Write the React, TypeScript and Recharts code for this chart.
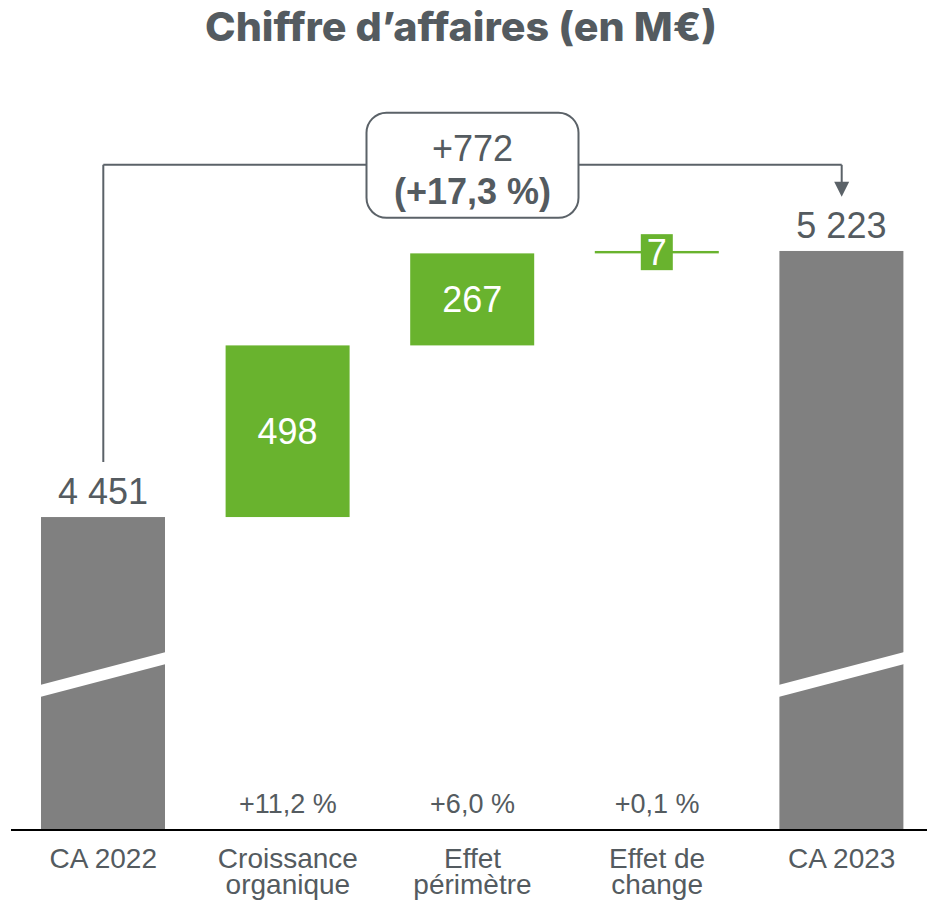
import React from 'react';
import { BarChart, Bar, XAxis, YAxis, LabelList, ReferenceLine, ReferenceDot, Cell } from 'recharts';

// ---- data ----
const categories = ['CA 2022', 'Croissance organique', 'Effet périmètre', 'Effet de change', 'CA 2023'];
const categoryLines = [['CA 2022'], ['Croissance', 'organique'], ['Effet', 'périmètre'], ['Effet de', 'change'], ['CA 2023']];
const values = [4451, 498, 267, 7, 5223];
const kinds = ['total', 'delta', 'delta', 'delta', 'total'];
const percentLabels = ['', '+11,2 %', '+6,0 %', '+0,1 %', ''];
const totalChangeLabel = '+772';
const totalChangePctLabel = '(+17,3 %)';
const titleText = 'Chiffre d\u2019affaires (en M€)';
// broken axis: visible value range
const yDomain = [3543, 5661];
// bracket annotation levels (data units)
const bracketLevel = 5473;
const bracketStartGap = 160;
const arrowTipLevel = 5380;

// ---- styles ----
const GREEN = '#69b32e';
const GREY = '#808080';
const TEXT = '#545b60';
const LINE = '#5b6268';
const FONT = '"Liberation Sans", Arial, sans-serif';

let running = 0;
const data = categories.map((name, i) => {
  if (kinds[i] === 'total') {
    running = values[i];
    return { name, range: [yDomain[0], values[i]], value: values[i], kind: 'total' };
  }
  const lo = running;
  running += values[i];
  return { name, range: [lo, running], value: values[i], kind: 'delta' };
});

const fmt = (v: number) => String(v).replace(/\B(?=(\d{3})+(?!\d))/g, '\u00a0');

const BarShape = (props: any) => {
  const { x, y, width, height, index, fill } = props;
  const isTotal = kinds[index] === 'total';
  const bottom = y + height;
  return (
    <g>
      <rect x={x} y={y} width={width} height={Math.max(height, 0)} fill={fill} />
      {isTotal && (
        <polygon
          points={`${x - 1},${bottom - 133} ${x + width + 1},${bottom - 166} ${x + width + 1},${bottom - 178} ${x - 1},${bottom - 145}`}
          fill="#ffffff"
        />
      )}
    </g>
  );
};

const renderLabel = (p: any) => {
  const { x, y, width, height, index } = p;
  const v = values[index];
  const cx = x + width / 2;
  if (kinds[index] === 'total') {
    return (
      <text x={cx} y={y - 13} textAnchor="middle" fontSize={36} fill={TEXT} fontFamily={FONT}>
        {fmt(v)}
      </text>
    );
  }
  const cy = y + height / 2;
  if (height < 40) {
    return (
      <g>
        <rect x={cx - 16} y={cy - 18} width={32} height={36} fill={GREEN} />
        <text x={cx} y={cy + 13} textAnchor="middle" fontSize={36} fill="#ffffff" fontFamily={FONT}>
          {fmt(v)}
        </text>
      </g>
    );
  }
  return (
    <text x={cx} y={cy + 13} textAnchor="middle" fontSize={36} fill="#ffffff" fontFamily={FONT}>
      {fmt(v)}
    </text>
  );
};

const AxisTick = (props: any) => {
  const { x, y, payload } = props;
  const i = payload.index ?? categories.indexOf(payload.value);
  const lines = categoryLines[i] || [payload.value];
  return (
    <g>
      {percentLabels[i] && (
        <text x={x} y={y - 17} textAnchor="middle" fontSize={27} fill={TEXT} fontFamily={FONT}>
          {percentLabels[i]}
        </text>
      )}
      {lines.map((l: string, k: number) => (
        <text key={k} x={x} y={y + 38 + k * 26} textAnchor="middle" fontSize={28} fill={TEXT} fontFamily={FONT}>
          {l}
        </text>
      ))}
    </g>
  );
};

const ArrowLine = (props: any) => {
  const { x1, y1, x2, y2 } = props;
  return (
    <g>
      <line x1={x1} y1={y1} x2={x2} y2={y2 - 14} stroke={LINE} strokeWidth={2} />
      <polygon points={`${x2 - 7.5},${y2 - 15} ${x2 + 7.5},${y2 - 15} ${x2},${y2}`} fill={LINE} />
    </g>
  );
};

const ChangeBox = (props: any) => {
  const { cx, cy } = props;
  return (
    <g>
      <rect x={cx - 106} y={cy - 52} width={212} height={105} rx={20} ry={20} fill="#ffffff" stroke={LINE} strokeWidth={2} />
      <text x={cx} y={cy - 4} textAnchor="middle" fontSize={36} fill={TEXT} fontFamily={FONT}>
        {totalChangeLabel}
      </text>
      <text x={cx} y={cy + 39} textAnchor="middle" fontSize={36} fontWeight="bold" fill={TEXT} fontFamily={FONT}>
        {totalChangePctLabel}
      </text>
    </g>
  );
};

export default function App() {
  return (
    <div style={{ position: 'fixed', left: 0, top: 0, width: 927, height: 905, overflow: 'hidden', background: '#fff' }}>
      <svg width={927} height={60} style={{ position: 'absolute', left: 0, top: 0 }}>
        <text x={461} y={41} textAnchor="middle" fontSize={40} fontWeight={800} fill={TEXT} fontFamily="Inter, sans-serif" textLength={512} lengthAdjust="spacingAndGlyphs">
          {titleText}
        </text>
      </svg>
      <div style={{ position: 'absolute', left: 0, top: 0 }}>
        <BarChart width={940} height={905} data={data} margin={{ top: 100, right: 6, left: 11, bottom: 0 }}>
          <XAxis
            dataKey="name"
            height={75}
            interval={0}
            tickLine={false}
            tickSize={0}
            tickMargin={0}
            axisLine={{ stroke: '#000000', strokeWidth: 2 }}
            tick={<AxisTick />}
          />
          <YAxis hide type="number" domain={yDomain} allowDataOverflow />
          <ReferenceLine
            segment={[{ x: categories[0], y: values[0] + bracketStartGap }, { x: categories[0], y: bracketLevel }]}
            stroke={LINE}
            strokeWidth={2}
          />
          <ReferenceLine
            segment={[{ x: categories[0], y: bracketLevel }, { x: categories[4], y: bracketLevel }]}
            stroke={LINE}
            strokeWidth={2}
          />
          <ReferenceLine
            segment={[{ x: categories[4], y: bracketLevel }, { x: categories[4], y: arrowTipLevel }]}
            shape={<ArrowLine />}
          />
          <Bar dataKey="range" barSize={124} isAnimationActive={false} shape={<BarShape />}>
            {data.map((d, i) => (
              <Cell key={i} fill={d.kind === 'total' ? GREY : GREEN} />
            ))}
            <LabelList dataKey="value" content={renderLabel} />
          </Bar>
          <ReferenceDot x={categories[2]} y={bracketLevel} r={1} shape={<ChangeBox />} />
        </BarChart>
      </div>
    </div>
  );
}
